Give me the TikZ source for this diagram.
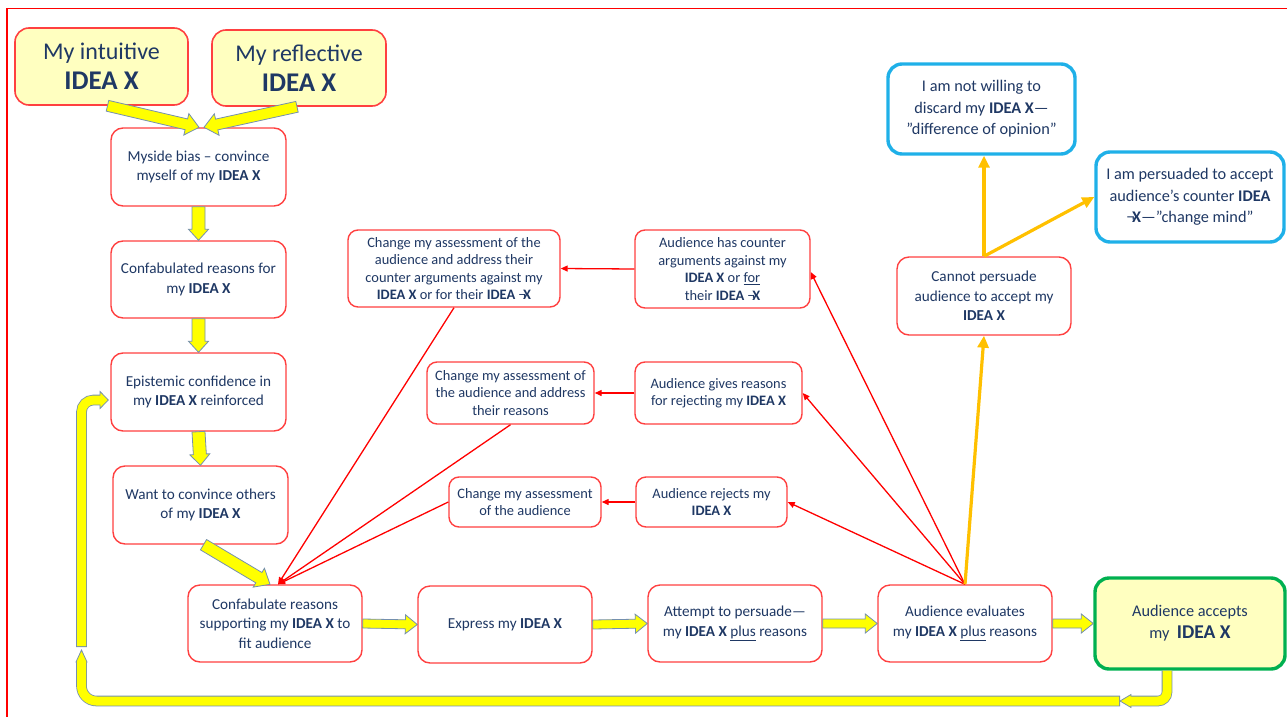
\documentclass[tikz,border=0pt]{standalone}
\usepackage{fontspec}
\setmainfont{Carlito}
\usetikzlibrary{calc,arrows.meta}
\definecolor{txt}{HTML}{1F3864}
\definecolor{bred}{HTML}{FF4040}
\definecolor{lyel}{HTML}{FFFFC0}
\definecolor{ablue}{HTML}{1FB0E8}
\definecolor{agreen}{HTML}{00B050}
\definecolor{aorange}{HTML}{FFC000}
\definecolor{yline}{HTML}{7590AE}
\definecolor{ayel}{HTML}{FFFF00}
\newcommand\fs[2]{\fontsize{#1}{#2}\selectfont}
\newcommand\IX{\textbf{IDEA X}}
\newcommand\nX{¬\kern-2.5pt\textbf{X}}
\tikzset{
  sz/.style 2 args={minimum width=#1pt, minimum height=#2pt},
  box/.style={draw=bred, line width=1.4pt, rounded corners=12pt, fill=white,
    align=center, text=txt, inner sep=2pt},
  bigbox/.style={box, fill=lyel, line width=1.6pt, rounded corners=14pt, font=\fs{24}{30}},
  lbox/.style={box, font=\fs{15.2}{19.5}},
  mbox/.style={box, rounded corners=10pt, font=\fs{14.4}{17.5}},
  bbox/.style={box, draw=ablue, line width=3.4pt, rounded corners=14pt, font=\fs{16.3}{21.5}},
  acc/.style={box, draw=agreen, fill=lyel, line width=3.4pt, rounded corners=14pt, font=\fs{16.3}{22}},
  rarr/.style={draw=red, line width=1.3pt, -{Triangle[length=7pt,width=6pt]}},
  oarr/.style={draw=aorange, line width=3.2pt, -{Triangle[length=12pt,width=11pt]}},
  yhead/.style={fill=ayel, draw=yline, line width=0.8pt, line join=miter},
  yout/.style={draw=yline, line width=10.6pt},
  yin/.style={draw=ayel, line width=9pt},
}
% straight block arrow: start, tip, shaft half width, head half width, head length
\newcommand\ystraight[5]{%
  \path (#1) coordinate (ya) (#2) coordinate (yb);
  \path ($(yb)!#5!(ya)$) coordinate (yc);
  \filldraw[yhead] ($(ya)!#3!90:(yb)$) -- ($(yc)!#3!-90:(ya)$) -- ($(yc)!#4!-90:(ya)$) -- (yb)
     -- ($(yc)!#4!90:(ya)$) -- ($(yc)!#3!90:(ya)$) -- ($(ya)!#3!-90:(yb)$) -- cycle;}
\begin{document}
\begin{tikzpicture}[x=1pt,y=-1pt]
\useasboundingbox (0,0) rectangle (1287,717);
\draw[red, line width=1.4pt] (7,717) -- (7,8.5) -- (1287,8.5);

% nodes
\node[bigbox, sz={173}{77}] (intu) at (101.5,66.5) {My intuitive\\{\fs{27}{30}\bfseries IDEA X}};
\node[bigbox, sz={174}{76}] (refl) at (299,68) {My reflective\\{\fs{27}{30}\bfseries IDEA X}};
\node[lbox, sz={175}{78}] (myside) at (198.5,167) {Myside bias – convince\\myself of my \IX};
\node[lbox, sz={175}{77}] (confed) at (198.5,279.5) {Confabulated reasons for\\my \IX};
\node[lbox, sz={175}{78}] (epist) at (198.5,392) {Epistemic confidence in\\my \IX{} reinforced};
\node[lbox, sz={175}{78}] (want) at (200.5,505) {Want to convince others\\of my \IX};
\node[lbox, sz={174}{77}] (confab) at (275,623.5) {Confabulate reasons\\supporting my \IX{} to\\fit audience};
\node[lbox, sz={174}{77}] (express) at (505,624.5) {Express my \IX};
\node[lbox, sz={174}{77}] (attempt) at (735,623.5) {Attempt to persuade—\\my \IX{} \underline{plus} reasons};
\node[lbox, sz={174}{77}] (evalu) at (965,623.5) {Audience evaluates\\my \IX{} \underline{plus} reasons};
\node[acc, sz={190}{91}] (accepts) at (1190,623.5) {Audience accepts\\my\ \ {\fs{19.5}{22}\bfseries IDEA X}};

\node[mbox, sz={212}{77}] (chg1) at (454,268.5) {Change my assessment of the\\audience and address their\\counter arguments against my\\\IX{} or for their \textbf{IDEA} \nX};
\node[mbox, sz={175}{78}] (aud1) at (722.5,269) {Audience has counter\\arguments against my\\\IX{} or \underline{for}\\their \textbf{IDEA} \nX};
\node[mbox, sz={167}{62}] (chg2) at (510.5,393) {Change my assessment of\\the audience and address\\their reasons};
\node[mbox, sz={167}{62}] (aud2) at (718.5,393) {Audience gives reasons\\for rejecting my \IX};
\node[mbox, sz={152}{50}] (chg3) at (525,502) {Change my assessment\\of the audience};
\node[mbox, sz={151}{50}] (aud3) at (711.5,502) {Audience rejects my\\\IX};

\node[lbox, sz={174}{78}] (cannot) at (984,296) {Cannot persuade\\audience to accept my\\\IX};
\node[bbox, sz={187}{90}] (notwill) at (981.5,109) {I am not willing to\\discard my \IX—\\”difference of opinion”};
\node[bbox, sz={188}{90}] (persuaded) at (1190,197) {I am persuaded to accept\\audience’s counter \textbf{IDEA}\\\nX—”change mind”};

% red connectors
\draw[rarr] (evalu.north) -- (aud3.east);
\draw[rarr] (evalu.north) -- (aud2.east);
\draw[rarr] (evalu.north) -- ([yshift=-3pt]aud1.east);
\draw[rarr] (aud1.west) -- (chg1.east);
\draw[rarr] (aud2.west) -- (chg2.east);
\draw[rarr] (aud3.west) -- (chg3.east);
\draw[rarr] (chg1.south) -- ([xshift=3pt]confab.north);
\draw[rarr] (chg2.south) -- ([xshift=3pt]confab.north);
\draw[rarr] (chg3.west) -- ([xshift=3pt]confab.north);

% orange connectors
\draw[oarr] (evalu.north) -- (cannot.south);
\draw[oarr] (cannot.north) -- (notwill.south -| cannot.north);
\draw[oarr] (cannot.north) -- (persuaded.west);

% yellow straight arrows
\ystraight{[xshift=6pt]intu.south}{[xshift=0.5pt]myside.north}{5.5pt}{11pt}{13pt}
\ystraight{[xshift=-2pt]refl.south}{[xshift=5.5pt]myside.north}{5.5pt}{11pt}{13pt}
\ystraight{myside.south}{confed.north}{6.5pt}{10pt}{11pt}
\ystraight{confed.south}{epist.north}{6.5pt}{10pt}{11pt}
\ystraight{epist.south}{want.north}{6.5pt}{10pt}{11pt}
\ystraight{[xshift=3pt]want.south}{[xshift=-5pt]confab.north}{6pt}{11pt}{13pt}
\ystraight{confab.east}{express.west}{4.5pt}{9.5pt}{12pt}
\ystraight{express.east}{attempt.west}{4.5pt}{9.5pt}{12pt}
\ystraight{attempt.east}{evalu.west}{4.5pt}{9.5pt}{12pt}
\ystraight{evalu.east}{accepts.west}{4.5pt}{9.5pt}{12pt}

% loop back: piece a
\path ([xshift=-23pt]accepts.south) coordinate (a0);
\coordinate (a1) at (1131,701);
\coordinate (a2) at (1120,701);
\draw[yout, rounded corners=9pt] (a0) |- (a1);
\filldraw[yhead] (1131,694.5) -- (a2) -- (1131,707.5) -- cycle;
\draw[yin, rounded corners=9pt, shorten >=-1.2pt] (a0) |- (a1);
% piece b
\coordinate (b1) at (81.5,662);
\coordinate (b2) at (81.5,650);
\draw[yout, rounded corners=15pt] (a2) -| (b1);
\filldraw[yhead] (76,662) -- (b2) -- (87,662) -- cycle;
\draw[yin, rounded corners=15pt, shorten <=0.8pt, shorten >=-1.2pt] (a2) -| (b1);
% piece c
\coordinate (c0) at (81.5,647);
\coordinate (c1) at (100,400);
\draw[yout, rounded corners=12pt] (c0) |- (c1);
\filldraw[yhead] (100,391.5) -- ([xshift=-2pt,yshift=-8pt]epist.west) -- (100,408.5) -- cycle;
\draw[yin, rounded corners=12pt, shorten <=0.8pt, shorten >=-1.2pt] (c0) |- (c1);
\end{tikzpicture}
\end{document}
